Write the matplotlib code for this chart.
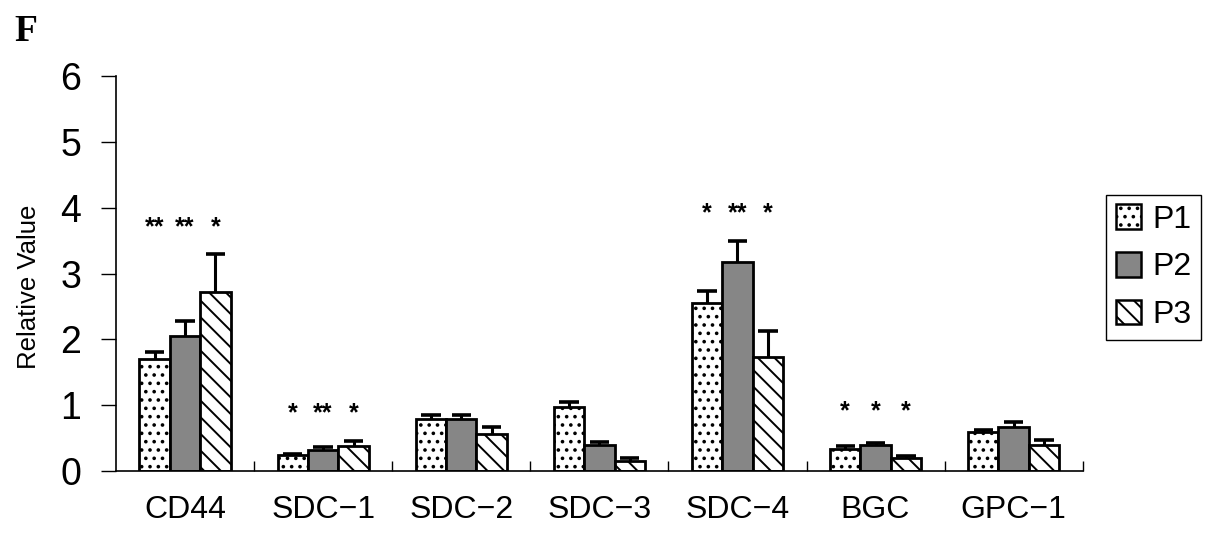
import numpy as np
import matplotlib.pyplot as plt
from matplotlib.patches import Patch

plt.rcParams['font.family'] = ['Liberation Sans', 'DejaVu Sans']
plt.rcParams['hatch.linewidth'] = 1.4

# ---------------- data ----------------
genes = ['CD44', 'SDC\u22121', 'SDC\u22122', 'SDC\u22123', 'SDC\u22124', 'BGC', 'GPC\u22121']
groups = ['P1', 'P2', 'P3']

p1_mean = [1.70, 0.24, 0.79, 0.97, 2.55, 0.33, 0.59]
p2_mean = [2.05, 0.32, 0.79, 0.40, 3.18, 0.40, 0.67]
p3_mean = [2.72, 0.38, 0.56, 0.15, 1.73, 0.20, 0.40]

p1_err = [0.11, 0.02, 0.06, 0.08, 0.19, 0.05, 0.03]
p2_err = [0.23, 0.04, 0.06, 0.04, 0.32, 0.03, 0.08]
p3_err = [0.58, 0.08, 0.11, 0.05, 0.40, 0.03, 0.07]

# significance marks: (gene index, group index, text)
sig_marks = [(0, 0, '**'), (0, 1, '**'), (0, 2, '*'),
             (1, 0, '*'), (1, 1, '**'), (1, 2, '*'),
             (4, 0, '*'), (4, 1, '**'), (4, 2, '*'),
             (5, 0, '*'), (5, 1, '*'), (5, 2, '*')]
sig_height = {0: 3.70, 1: 0.88, 4: 3.92, 5: 0.91}

means = [p1_mean, p2_mean, p3_mean]
errs = [p1_err, p2_err, p3_err]

# ---------------- styles ----------------
faces = ['white', '#868686', 'white']
hatches = ['..', None, '\\\\']
width = 0.22
offsets = [-width, 0, width]

fig = plt.figure(figsize=(12.13, 5.51), dpi=100)
ax = fig.add_axes([0.0956, 0.145, 0.797, 0.717])

x = np.arange(len(genes))
for k in range(3):
    xs = x + offsets[k]
    ax.bar(xs, means[k], width=width, color=faces[k], hatch=hatches[k],
           edgecolor='black', linewidth=2.0, zorder=2)
    tops = np.array(means[k]) + np.array(errs[k])
    ax.vlines(xs, means[k], tops, color='black', linewidth=2.2, zorder=3)
    ax.hlines(tops, xs - 0.07, xs + 0.07, color='black', linewidth=2.6, zorder=3)

for gi, k, s in sig_marks:
    ax.text(x[gi] + offsets[k], sig_height[gi], s, ha='center', va='center',
            fontsize=18, fontweight='bold')

ax.set_xlim(-0.5, len(genes) - 0.5)
ax.set_ylim(0, 6)
ax.set_yticks(range(7))
ax.set_xticks(x)
ax.set_xticklabels(genes)
ax.set_xticks(np.arange(0.5, len(genes), 1), minor=True)

ax.tick_params(axis='y', direction='out', length=11, width=1.0, labelsize=27, pad=14)
ax.tick_params(axis='x', which='major', length=0, labelsize=23, pad=17)
ax.tick_params(axis='x', which='minor', direction='in', length=7, width=1.0)

for side in ['top', 'right']:
    ax.spines[side].set_visible(False)
for side in ['left', 'bottom']:
    ax.spines[side].set_linewidth(1.2)

ax.set_ylabel('Relative Value', fontsize=18.5)
ax.yaxis.set_label_coords(-0.078, 0.466)

handles = [Patch(facecolor=faces[k], hatch=hatches[k], edgecolor='black', linewidth=1.8)
           for k in range(3)]
leg = fig.legend(handles, groups, loc='center left', bbox_to_anchor=(0.912, 0.515),
                 fontsize=23, handlelength=0.8, handleheight=0.8, handletextpad=0.35,
                 labelspacing=0.55, borderpad=0.3, borderaxespad=0, fancybox=False,
                 framealpha=1, edgecolor='black')
leg.get_frame().set_linewidth(1.0)

fig.text(0.012, 0.975, 'F', family=['Liberation Serif', 'DejaVu Serif'],
         fontsize=27, fontweight='bold', va='top', ha='left')

fig.savefig('out.png', dpi=100)
